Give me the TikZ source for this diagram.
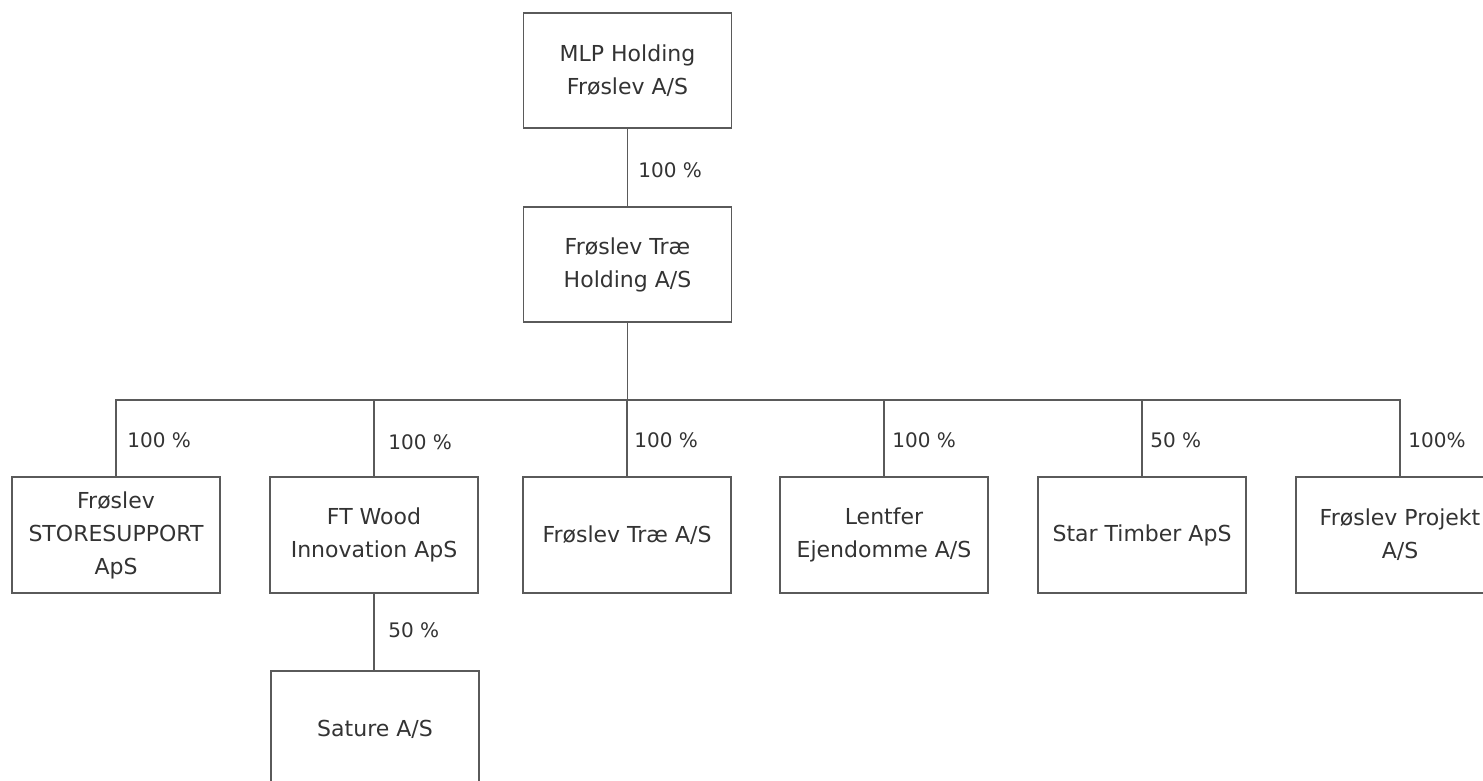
\documentclass[tikz,border=0pt]{standalone}
\usepackage{fontspec}
\setmainfont{DejaVu Sans}
\definecolor{txt}{HTML}{333333}
\definecolor{ln}{HTML}{5A5A5A}
\begin{document}
\begin{tikzpicture}[x=0.5pt,y=-0.5pt,
  box/.style={draw=ln, line width=0.8pt, fill=white, text=txt, align=center,
    minimum width=104pt, minimum height=58pt, inner sep=0pt, font=\fontsize{11}{16.5}\selectfont},
  pct/.style={text=txt, anchor=west, inner sep=0pt, font=\fontsize{10}{13}\selectfont},
  conn/.style={draw=ln, line width=0.8pt}]
\fill[white] (0,0) rectangle (1483,781);
\clip (0,0) rectangle (1483,781);
\useasboundingbox (0,0) rectangle (1483,781);
\node[box, minimum height=57.5pt] (mlp) at (627.5,70.5) {MLP Holding\\Frøslev A/S};
\node[box, minimum height=57.5pt] (fth) at (627.5,264.5) {Frøslev Træ\\Holding A/S};
\node[box] (c1) at (116,535) {Frøslev\\STORESUPPORT\\ApS};
\node[box] (c2) at (374,535) {FT Wood\\Innovation ApS};
\node[box] (c3) at (627,535) {Frøslev Træ A/S};
\node[box] (c4) at (884,535) {Lentfer\\Ejendomme A/S};
\node[box] (c5) at (1142,535) {Star Timber ApS};
\node[box] (c6) at (1400,535) {Frøslev Projekt\\A/S};
\node[box] (sat) at (375,729) {Sature A/S};
\coordinate (bus) at (627.5,400);
\draw[conn] (mlp.south) -- (fth.north);
\foreach \c in {c1,c2,c3,c4,c5,c6}{
  \draw[conn] (fth.south) -- (bus) -| (\c.north);
}
\draw[conn] (c2.south) -- (c2.south |- sat.north);
\node[pct] (p0) at (638,170) {100 \%};
\node[pct] (p1) at (127,440) {100 \%};
\node[pct] (p2) at (388,442) {100 \%};
\node[pct] (p3) at (634,440) {100 \%};
\node[pct] (p4) at (892,440) {100 \%};
\node[pct] (p5) at (1150,440) {50 \%};
\node[pct] (p6) at (1408,440) {100\%};
\node[pct] (p7) at (388,630) {50 \%};
\end{tikzpicture}
\end{document}
